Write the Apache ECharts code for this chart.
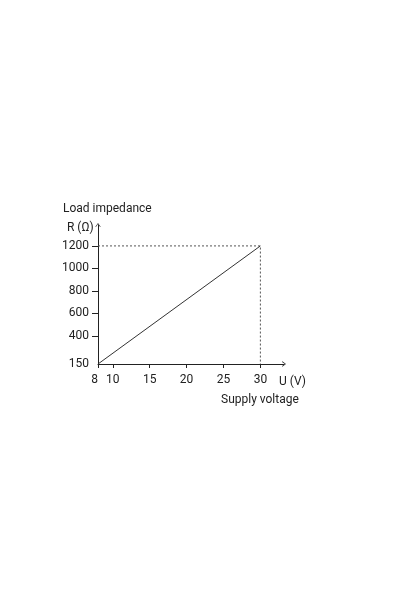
<!DOCTYPE html>
<html>
<head>
<meta charset="utf-8">
<script src="https://cdn.jsdelivr.net/npm/echarts@6/dist/echarts.min.js"></script>
<style>
  html, body { margin: 0; padding: 0; background: #fff; }
  #chart { width: 400px; height: 600px; }
</style>
</head>
<body>
<div id="chart"></div>
<script>
// Load line: permissible load impedance versus supply voltage
const supplyVoltage = [8, 30];
const loadImpedance = [150, 1200];
// Limit point marked with dashed guide lines
const limitVoltage = 30;
const limitImpedance = 1200;
// Tick labels
const xTickValues = [8, 10, 15, 20, 25, 30];
const yLabelValues = [150, 400, 600, 800, 1000, 1200];
const yTickValues = [400, 600, 800, 1000, 1200];

const FONT = 'Roboto, "Liberation Sans", sans-serif';
const INK = '#222';
// Thin open arrowhead for the axis ends (pointing up, rotated by ECharts)
const OPEN_ARROW = 'path://M5,0 L10,7 L9,7.6 L5,2 L1,7.6 L0,7 Z';

const chart = echarts.init(document.getElementById('chart'), null, { renderer: 'canvas' });

chart.setOption({
  backgroundColor: '#fff',
  animation: false,
  grid: { left: 98, right: 116, top: 225, bottom: 236, containLabel: false },
  xAxis: {
    type: 'value',
    min: 8,
    max: 33.2,
    axisLine: {
      show: true,
      lineStyle: { color: INK, width: 1 },
      symbol: ['none', OPEN_ARROW],
      symbolSize: [6, 4]
    },
    axisTick: { show: true, length: 4, customValues: xTickValues, lineStyle: { color: INK } },
    axisLabel: {
      customValues: xTickValues,
      margin: 10,
      fontSize: 12,
      fontFamily: FONT,
      color: INK,
      alignMinLabel: 'right',
      formatter: v => String(v)
    },
    splitLine: { show: false }
  },
  yAxis: {
    type: 'value',
    min: 150,
    max: 1386,
    axisLine: {
      show: true,
      lineStyle: { color: INK, width: 1 },
      symbol: ['none', OPEN_ARROW],
      symbolSize: [6, 4]
    },
    axisTick: { show: true, length: 6, customValues: yTickValues, lineStyle: { color: INK } },
    axisLabel: {
      customValues: yLabelValues,
      margin: 9,
      fontSize: 12,
      fontFamily: FONT,
      color: INK,
      formatter: v => String(v)
    },
    splitLine: { show: false }
  },
  graphic: [
    { type: 'text', left: 63, top: 203, style: { text: 'Load impedance', font: '12px ' + FONT, fill: INK } },
    { type: 'text', left: 67, top: 222, style: { text: 'R (Ω)', font: '12px ' + FONT, fill: INK } },
    { type: 'text', left: 279, top: 376, style: { text: 'U (V)', font: '12px ' + FONT, fill: INK } },
    { type: 'text', left: 221, top: 394, style: { text: 'Supply voltage', font: '12px ' + FONT, fill: INK } }
  ],
  series: [
    {
      name: 'Load line',
      type: 'line',
      data: supplyVoltage.map((u, i) => [u, loadImpedance[i]]),
      showSymbol: false,
      lineStyle: { color: '#333', width: 1 },
      z: 3
    },
    {
      name: 'Limit',
      type: 'line',
      data: [[supplyVoltage[0], limitImpedance], [limitVoltage, limitImpedance], [limitVoltage, loadImpedance[0]]],
      showSymbol: false,
      lineStyle: { color: '#555', width: 1, type: [2, 2] },
      z: 2
    }
  ]
});
</script>
</body>
</html>
